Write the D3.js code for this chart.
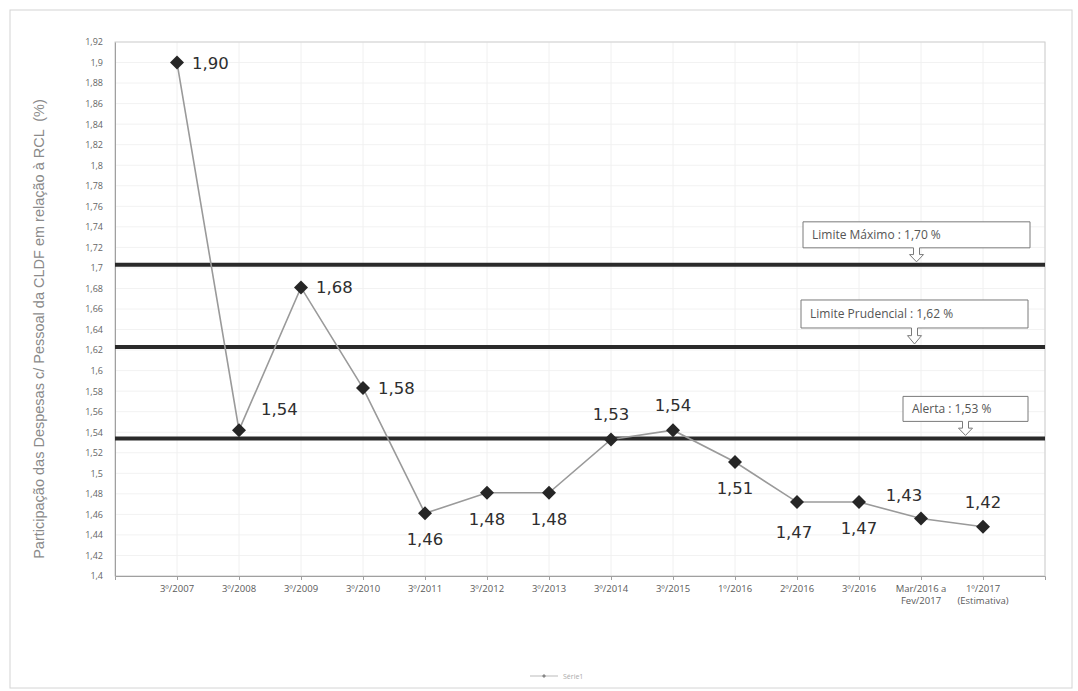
<!DOCTYPE html>
<html><head><meta charset="utf-8">
<script src="https://cdn.jsdelivr.net/npm/d3@7"></script>
<style>body{margin:0;background:#fff}svg{display:block}</style>
</head><body>
<svg id="c" width="1078" height="691"></svg>
<script>
const categories = ["3º/2007","3º/2008","3º/2009","3º/2010","3º/2011","3º/2012","3º/2013","3º/2014","3º/2015","1º/2016","2º/2016","3º/2016","Mar/2016 a\nFev/2017","1º/2017\n(Estimativa)"];
const values = [1.900,1.542,1.681,1.583,1.461,1.481,1.481,1.533,1.542,1.511,1.472,1.472,1.456,1.448];
const valueLabels = ["1,90","1,54","1,68","1,58","1,46","1,48","1,48","1,53","1,54","1,51","1,47","1,47","1,43","1,42"];
const labelPlacement = ["right","upright","right","right","below","below","below","above","above","below","belowleft","below","aboveleft","above"];
const yTicks = [1.4,1.42,1.44,1.46,1.48,1.5,1.52,1.54,1.56,1.58,1.6,1.62,1.64,1.66,1.68,1.7,1.72,1.74,1.76,1.78,1.8,1.82,1.84,1.86,1.88,1.9,1.92];
const limitValues = [1.703,1.623,1.534];
const limitTexts = ["Limite Máximo : 1,70 %","Limite Prudencial : 1,62 %","Alerta : 1,53 %"];
const yTitle = "Participação das Despesas c/ Pessoal da CLDF em relação à RCL  (%)";
const legendText = "Série1";

const svg = d3.select("#c");
const L=115, R=1045, T=42, B=576;
const x = d3.scalePoint().domain(categories).range([L,R]).padding(1);
const y = d3.scaleLinear().domain([1.4,1.92]).range([B,T]);
const fmt = v => String(+v.toFixed(2)).replace(".",",");

// outer frame
svg.append("rect").attr("x",10).attr("y",10).attr("width",1062).attr("height",678)
  .attr("fill","none").attr("stroke","#d4d4d4");

// gridlines
const g = svg.append("g");
g.selectAll("line.h").data(yTicks).join("line")
  .attr("x1",L).attr("x2",R).attr("y1",d=>y(d)).attr("y2",d=>y(d))
  .attr("stroke","#f2f2f2");
const step = x.step();
g.selectAll("line.v").data(d3.range(0,16)).join("line")
  .attr("x1",d=>L+d*step).attr("x2",d=>L+d*step).attr("y1",T).attr("y2",B)
  .attr("stroke","#f0f0f0");

// plot border
svg.append("rect").attr("x",L).attr("y",T).attr("width",R-L).attr("height",B-T)
  .attr("fill","none").attr("stroke","#cfcfcf");

// y axis
const yAxis = d3.axisLeft(y).tickValues(yTicks).tickFormat(fmt).tickSize(0).tickPadding(12);
const ya = svg.append("g").attr("transform",`translate(${L},0)`).call(yAxis);
ya.select(".domain").attr("stroke","#a0a0a0");
ya.selectAll("text").attr("font-family","Open Sans").attr("font-size",9).attr("fill","#666");

// x axis
const xAxis = d3.axisBottom(x).tickSize(4).tickFormat("");
const xa = svg.append("g").attr("transform",`translate(0,${B})`).call(xAxis);
xa.select(".domain").attr("stroke","#a0a0a0");
xa.selectAll(".tick line").attr("stroke","#a0a0a0");
categories.forEach(c=>{
  const lines = c.split("\n");
  const t = svg.append("text").attr("x",x(c)).attr("y",B+16)
    .attr("text-anchor","middle").attr("font-family","Open Sans").attr("font-size",9.5).attr("fill","#5a5a5a");
  lines.forEach((ln,i)=>t.append("tspan").attr("x",x(c)).attr("dy",i?12:0).text(ln));
});

// y title
svg.append("text").attr("transform",`translate(44,${(T+B)/2+20}) rotate(-90)`)
  .attr("text-anchor","middle").attr("font-family","Liberation Sans").attr("font-size",14.5)
  .attr("fill","#8a8a8a").attr("xml:space","preserve").style("white-space","pre").text(yTitle);

// limit lines
svg.selectAll("line.lim").data(limitValues).join("line")
  .attr("x1",L).attr("x2",R).attr("y1",d=>y(d)).attr("y2",d=>y(d))
  .attr("stroke","#2a2a2a").attr("stroke-width",4);

// callouts
const boxes = [{x0:803,x1:1030,h:26,gap:17},{x0:801,x1:1028,h:28,gap:19},{x0:903,x1:1028,h:25,gap:17}];
limitValues.forEach((v,i)=>{
  const b = boxes[i], ly = y(v), bb = ly-b.gap, bt = bb-b.h, cx=(b.x0+b.x1)/2;
  const sw=3, hw=7, neck = bb + (b.gap-2)*0.45, tip = ly-3;
  const p = `M${b.x0},${bt} H${b.x1} V${bb} H${cx+sw} V${neck} H${cx+hw} L${cx},${tip} L${cx-hw},${neck} H${cx-sw} V${bb} H${b.x0} Z`;
  svg.append("path").attr("d",p).attr("fill","#fff").attr("stroke","#7a7a7a").attr("stroke-width",1);
  svg.append("text").attr("x",b.x0+9).attr("y",bt+b.h/2+4).attr("font-family","Open Sans")
    .attr("font-size",12).attr("fill","#555").text(limitTexts[i]);
});

// series line
const data = categories.map((c,i)=>({c,v:values[i],l:valueLabels[i],p:labelPlacement[i]}));
svg.append("path").datum(data).attr("fill","none").attr("stroke","#9a9a9a").attr("stroke-width",1.6)
  .attr("d",d3.line().x(d=>x(d.c)).y(d=>y(d.v)));
svg.selectAll("path.pt").data(data).join("path")
  .attr("d","M0,-7 L7,0 L0,7 L-7,0 Z").attr("fill","#262626")
  .attr("transform",d=>`translate(${x(d.c)},${y(d.v)})`);

// data labels
const off = {right:[15,0,"start"],upright:[22,-21,"start"],above:[0,-25,"middle"],below:[0,26,"middle"],belowleft:[-3,30,"middle"],aboveleft:[-17,-23,"middle"]};
svg.selectAll("text.dl").data(data).join("text")
  .attr("x",d=>x(d.c)+off[d.p][0]).attr("y",d=>y(d.v)+off[d.p][1]+6)
  .attr("text-anchor",d=>off[d.p][2]).attr("font-family","DejaVu Sans").attr("font-size",16.5)
  .attr("fill","#2e2e2e").text(d=>d.l);

// legend
const lg = svg.append("g").attr("transform","translate(530,676)");
lg.append("line").attr("x1",0).attr("x2",28).attr("y1",0).attr("y2",0).attr("stroke","#bbb");
lg.append("path").attr("d","M14,-2 L16,0 L14,2 L12,0 Z").attr("fill","#888");
lg.append("text").attr("x",33).attr("y",2.5).attr("font-family","Open Sans").attr("font-size",7).attr("fill","#aaa").text(legendText);
</script>
</body></html>
